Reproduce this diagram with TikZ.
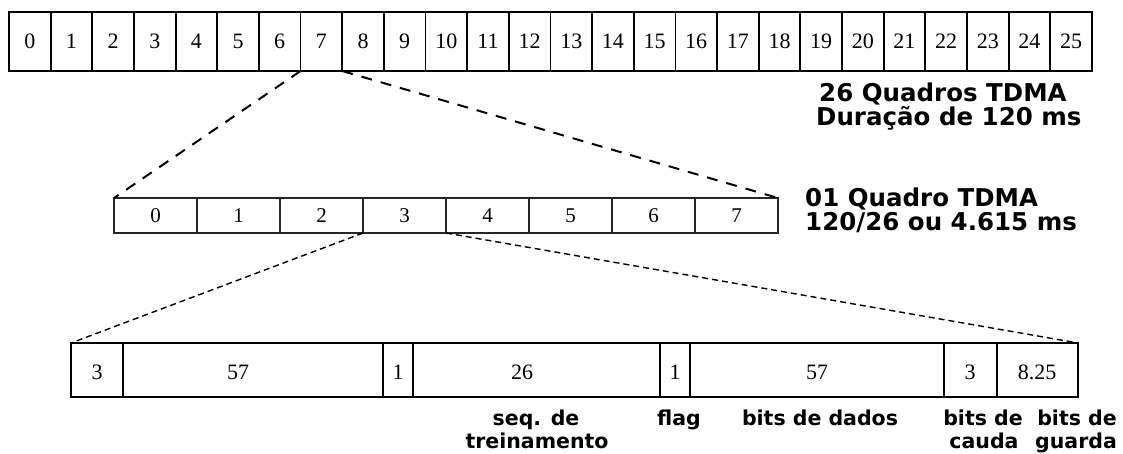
\documentclass[tikz,border=0pt]{standalone}
\usepackage{fontspec}
\setmainfont{Liberation Serif}
\newfontfamily\headfont{DejaVu Sans}
\usetikzlibrary{fit}

\begin{document}
\begin{tikzpicture}[x=1pt,y=-1pt,
  cellbox/.style={draw, line width=1.8pt, inner sep=0pt, outer sep=0pt},
  topcell/.style={cellbox, minimum width=41.65pt, minimum height=59pt,
                  font=\fontsize{22}{22}\selectfont},
  midcell/.style={cellbox, draw=black!85, minimum width=83pt, minimum height=35pt,
                  font=\fontsize{21}{21}\selectfont},
  botcell/.style={cellbox},
  botnum/.style={inner sep=0pt, font=\fontsize{22}{22}\selectfont},
  heading/.style={inner sep=0pt, anchor=base west,
                  font=\headfont\bfseries\fontsize{24.5}{24.5}\selectfont},
  fieldlabel/.style={inner sep=0pt, anchor=base,
                  font=\headfont\bfseries\fontsize{20.5}{20.5}\selectfont},
  bigdash/.style={line width=2pt, dash pattern=on 11pt off 9pt},
  smalldash/.style={line width=1.4pt, dash pattern=on 6pt off 4pt}]

\useasboundingbox (0,0) rectangle (1123,453);

% multiframe of 26 TDMA frames
\foreach \i in {0,...,25}
  \node[topcell] (t\i) at ({9+41.65*(\i+0.5)},41.5) {\i};

% one TDMA frame with 8 time slots
\foreach \i in {0,...,7}
  \node[midcell] (s\i) at ({114+83*(\i+0.5)},215.5) {\i};

% normal burst fields
\foreach \i/\l/\r in {0/71/123,1/123/383,2/383/413,3/413/660,4/660/690,5/690/944,6/944/997,7/997/1078}
  \node[botcell, fit={(\l,343) (\r,397)}] (b\i) {};

\node[botnum] (n0) at (97,372) {3};
\node[botnum] (n1) at (238,372) {57};
\node[botnum] (n2) at (398,372) {1};
\node[botnum] (n3) at (522,372) {26};
\node[botnum] (n4) at (675,372) {1};
\node[botnum] (n5) at (817,372) {57};
\node[botnum] (n6) at (970,372) {3};
\node[botnum] (n7) at (1037,372) {8.25};

% zoom lines
\draw[bigdash] (t7.south west) -- (s0.north west);
\draw[bigdash] (t8.south west) -- (s7.north east);
\draw[smalldash] (s3.south west) -- (b0.north west);
\draw[smalldash] (s4.south west) -- (b7.north east);

% headings
\node[heading] (h1) at (819,101) {26 Quadros TDMA};
\node[heading] (h2) at (816,125) {Duração de 120 ms};
\node[heading] (h3) at (805,206) {01 Quadro TDMA};
\node[heading] (h4) at (805,230) {120/26 ou 4.615 ms};

% field names
\node[fieldlabel] (l1a) at (536,425) {seq. de};
\node[fieldlabel] (l1b) at (537,448) {treinamento};
\node[fieldlabel] (l2) at (679,425) {flag};
\node[fieldlabel] (l3) at (820,425) {bits de dados};
\node[fieldlabel] (l4a) at (983,425) {bits de};
\node[fieldlabel] (l4b) at (984,448) {cauda};
\node[fieldlabel] (l5a) at (1077,425) {bits de};
\node[fieldlabel] (l5b) at (1076,448) {guarda};
\end{tikzpicture}
\end{document}
